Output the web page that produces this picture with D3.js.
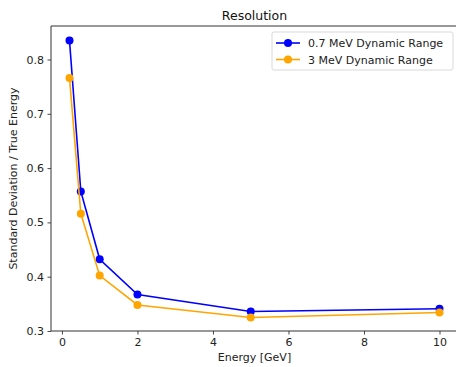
<!DOCTYPE html>
<html><head><meta charset="utf-8">
<script src="https://cdn.jsdelivr.net/npm/d3@7"></script>
<style>body{margin:0;background:#fff}svg{display:block;font-family:"DejaVu Sans",sans-serif}</style>
</head><body><svg id="c" width="456" height="367"></svg>
<script>
const energies = [0.2, 0.5, 1, 2, 5, 10];
const range07 = [0.835, 0.557, 0.432, 0.367, 0.336, 0.341];
const range3 = [0.766, 0.516, 0.402, 0.348, 0.325, 0.334];
const seriesNames = ["0.7 MeV Dynamic Range", "3 MeV Dynamic Range"];
const seriesColors = ["#0000ff", "#ffa500"];
const xTicks = [0, 2, 4, 6, 8, 10];
const yTicks = [0.3, 0.4, 0.5, 0.6, 0.7, 0.8];

const svg = d3.select("#c");
const L = 51, R = 458, T = 26, B = 331;
const x = d3.scaleLinear().domain([-0.29, 10.49]).range([L, R]);
const y = d3.scaleLinear().domain([0.3, 0.8617]).range([B, T]);

const ax = svg.append("g").attr("transform", `translate(0,${B})`)
  .call(d3.axisBottom(x).tickValues(xTicks).tickFormat(d3.format("d")).tickSizeInner(3.5).tickSizeOuter(0).tickPadding(3.5));
const ay = svg.append("g").attr("transform", `translate(${L},0)`)
  .call(d3.axisLeft(y).tickValues(yTicks).tickFormat(d3.format(".1f")).tickSizeInner(3.5).tickSizeOuter(0).tickPadding(3.5));
[ax, ay].forEach(g => {
  g.select(".domain").remove();
  g.selectAll("line").attr("stroke", "#333").attr("stroke-width", 0.9);
  g.selectAll("text").attr("font-size", 11).attr("fill", "#222").attr("font-family", "DejaVu Sans");
});
// spines
svg.append("line").attr("x1", L).attr("x2", L).attr("y1", T).attr("y2", B).attr("stroke", "#333").attr("stroke-width", 1);
svg.append("line").attr("x1", L).attr("x2", R).attr("y1", B).attr("y2", B).attr("stroke", "#333").attr("stroke-width", 1);
svg.append("line").attr("x1", L).attr("x2", R).attr("y1", T).attr("y2", T).attr("stroke", "#333").attr("stroke-width", 1);
svg.append("line").attr("x1", R).attr("x2", R).attr("y1", T).attr("y2", B).attr("stroke", "#333").attr("stroke-width", 1);

const series = [range07, range3];
const line = d3.line().x((d, i) => x(energies[i])).y(d => y(d));
series.forEach((vals, s) => {
  const g = svg.append("g");
  g.append("path").datum(vals).attr("d", line).attr("fill", "none")
    .attr("stroke", seriesColors[s]).attr("stroke-width", 1.6);
  g.selectAll("circle").data(vals).join("circle")
    .attr("cx", (d, i) => x(energies[i])).attr("cy", d => y(d)).attr("r", 4)
    .attr("fill", seriesColors[s]);
});

// title and labels
svg.append("text").attr("x", (L + R) / 2).attr("y", 20).attr("text-anchor", "middle")
  .attr("font-size", 12.5).attr("fill", "#111").text("Resolution");
svg.append("text").attr("x", (L + R) / 2).attr("y", 361).attr("text-anchor", "middle")
  .attr("font-size", 11).attr("fill", "#222").text("Energy [GeV]");
svg.append("text").attr("transform", `translate(17,${(T + B) / 2}) rotate(-90)`).attr("text-anchor", "middle")
  .attr("font-size", 11).attr("fill", "#222").text("Standard Deviation / True Energy");

// legend
const lg = svg.append("g");
lg.append("rect").attr("x", 272).attr("y", 32).attr("width", 181).attr("height", 38).attr("rx", 2)
  .attr("fill", "#fff").attr("fill-opacity", 0.8).attr("stroke", "#d9d9d9").attr("stroke-width", 1);
seriesNames.forEach((name, i) => {
  const yy = 43 + i * 16.5;
  lg.append("line").attr("x1", 276).attr("x2", 300).attr("y1", yy).attr("y2", yy)
    .attr("stroke", seriesColors[i]).attr("stroke-width", 1.6);
  lg.append("circle").attr("cx", 288).attr("cy", yy).attr("r", 4).attr("fill", seriesColors[i]);
  lg.append("text").attr("x", 308).attr("y", yy + 4).attr("font-size", 11).attr("fill", "#222").text(name);
});
</script></body></html>
